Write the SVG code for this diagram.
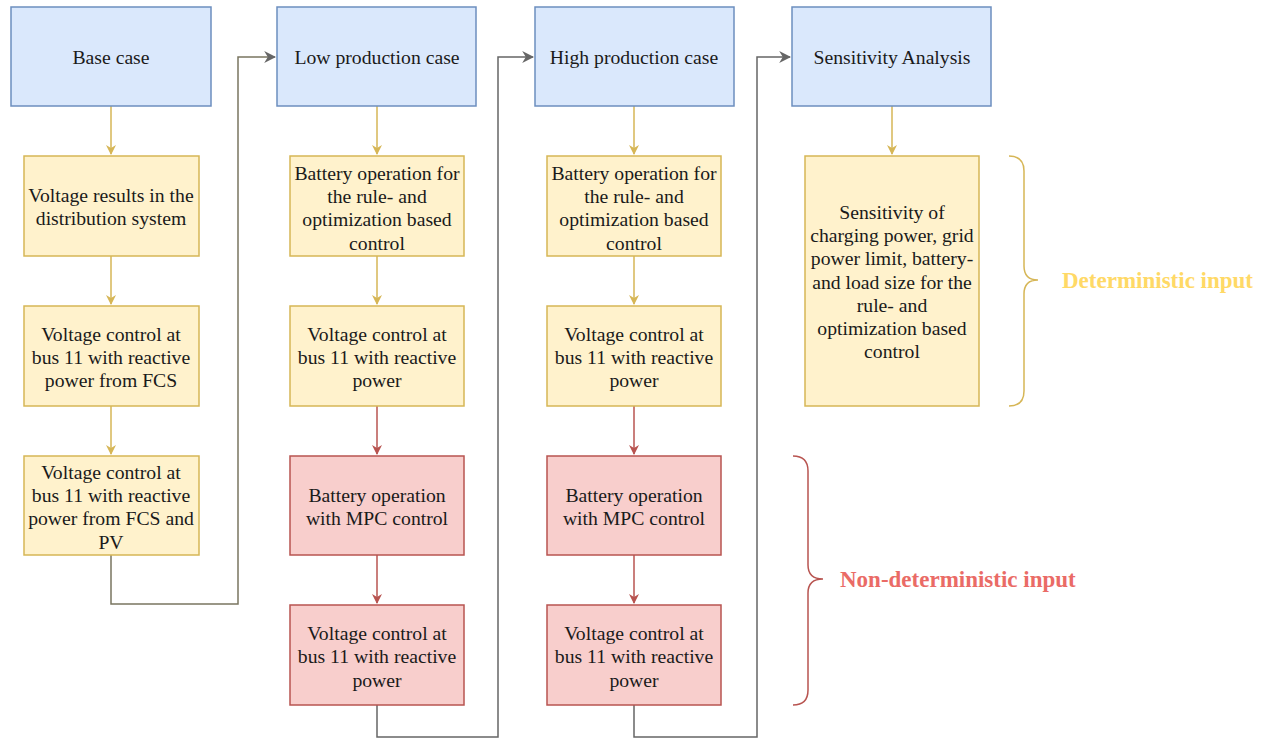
<svg xmlns="http://www.w3.org/2000/svg" width="1268" height="738" viewBox="0 0 1268 738">
<style>
.blue{fill:#dae8fc;stroke:#6c8ebf;stroke-width:1.5}
.yel{fill:#fff2cc;stroke:#d6b656;stroke-width:1.5}
.red{fill:#f8cecc;stroke:#b85450;stroke-width:1.5}
text{font-family:"Liberation Serif","Times New Roman",serif;font-size:19.7px;fill:#1a1a1a;text-anchor:middle}
.cy{fill:none;stroke:#d6b656;stroke-width:1.5}
.cr{fill:none;stroke:#b85450;stroke-width:1.5}
.cg{fill:none;stroke:#666666;stroke-width:1.5}
.co{fill:none;stroke:#7a7560;stroke-width:1.5}
.lbl{font-weight:bold;font-size:23px;text-anchor:start}
</style>
<defs>
<marker id="ay" viewBox="0 0 10 10" refX="9" refY="5" markerWidth="10" markerHeight="10" markerUnits="userSpaceOnUse" orient="auto"><path d="M0,0 L10,5 L0,10 L3,5 Z" fill="#d6b656"/></marker>
<marker id="ar" viewBox="0 0 10 10" refX="9" refY="5" markerWidth="10" markerHeight="10" markerUnits="userSpaceOnUse" orient="auto"><path d="M0,0 L10,5 L0,10 L3,5 Z" fill="#b85450"/></marker>
<marker id="ag" viewBox="0 0 10 10" refX="9" refY="5" markerWidth="12" markerHeight="12" markerUnits="userSpaceOnUse" orient="auto"><path d="M0,0 L10,5 L0,10 L3,5 Z" fill="#666666"/></marker>
</defs>
<g id="connectors">
<path class="cy" d="M111,106 V154" marker-end="url(#ay)"/>
<path class="cy" d="M111,256 V304" marker-end="url(#ay)"/>
<path class="cy" d="M111,406 V454" marker-end="url(#ay)"/>
<path class="co" d="M111,555 V604 H238 V57 H275" marker-end="url(#ag)"/>
<path class="cy" d="M377,106 V154" marker-end="url(#ay)"/>
<path class="cy" d="M377,256 V304" marker-end="url(#ay)"/>
<path class="cr" d="M377,406 V454" marker-end="url(#ar)"/>
<path class="cr" d="M377,555 V603" marker-end="url(#ar)"/>
<path class="cg" d="M377,705 V737 H498 V57 H533" marker-end="url(#ag)"/>
<path class="cy" d="M634,106 V154" marker-end="url(#ay)"/>
<path class="cy" d="M634,256 V304" marker-end="url(#ay)"/>
<path class="cr" d="M634,406 V454" marker-end="url(#ar)"/>
<path class="cr" d="M634,555 V603" marker-end="url(#ar)"/>
<path class="cg" d="M634,705 V737 H757 V57 H790" marker-end="url(#ag)"/>
<path class="cy" d="M892,106 V154" marker-end="url(#ay)"/>
</g>
<g id="base"><rect class="blue" x="11" y="7" width="200" height="99"/><text x="111" y="64">Base case</text></g>
<g id="low"><rect class="blue" x="277" y="7" width="199" height="99"/><text x="377" y="64">Low production case</text></g>
<g id="high"><rect class="blue" x="535" y="7" width="199" height="99"/><text x="634" y="64">High production case</text></g>
<g id="sens"><rect class="blue" x="792" y="7" width="199" height="99"/><text x="892" y="64">Sensitivity Analysis</text></g>
<g id="b1"><rect class="yel" x="24" y="156" width="175" height="100"/><text x="111" y="202">Voltage results in the</text><text x="111" y="225">distribution system</text></g>
<g id="b2"><rect class="yel" x="24" y="306" width="175" height="100"/><text x="111" y="341">Voltage control at</text><text x="111" y="364">bus 11 with reactive</text><text x="111" y="387">power from FCS</text></g>
<g id="b3"><rect class="yel" x="24" y="456" width="175" height="99"/><text x="111" y="479">Voltage control at</text><text x="111" y="502">bus 11 with reactive</text><text x="111" y="525">power from FCS and</text><text x="111" y="549">PV</text></g>
<g id="l1"><rect class="yel" x="290" y="156" width="174" height="100"/><text x="377" y="180">Battery operation for</text><text x="377" y="203">the rule- and</text><text x="377" y="226">optimization based</text><text x="377" y="250">control</text></g>
<g id="l2"><rect class="yel" x="290" y="306" width="174" height="100"/><text x="377" y="341">Voltage control at</text><text x="377" y="364">bus 11 with reactive</text><text x="377" y="387">power</text></g>
<g id="l3"><rect class="red" x="290" y="456" width="174" height="99"/><text x="377" y="502">Battery operation</text><text x="377" y="525">with MPC control</text></g>
<g id="l4"><rect class="red" x="290" y="605" width="174" height="100"/><text x="377" y="640">Voltage control at</text><text x="377" y="663">bus 11 with reactive</text><text x="377" y="687">power</text></g>
<g id="h1"><rect class="yel" x="547" y="156" width="174" height="100"/><text x="634" y="180">Battery operation for</text><text x="634" y="203">the rule- and</text><text x="634" y="226">optimization based</text><text x="634" y="250">control</text></g>
<g id="h2"><rect class="yel" x="547" y="306" width="174" height="100"/><text x="634" y="341">Voltage control at</text><text x="634" y="364">bus 11 with reactive</text><text x="634" y="387">power</text></g>
<g id="h3"><rect class="red" x="547" y="456" width="174" height="99"/><text x="634" y="502">Battery operation</text><text x="634" y="525">with MPC control</text></g>
<g id="h4"><rect class="red" x="547" y="605" width="174" height="100"/><text x="634" y="640">Voltage control at</text><text x="634" y="663">bus 11 with reactive</text><text x="634" y="687">power</text></g>
<g id="s1"><rect class="yel" x="805" y="156" width="174" height="250"/><text x="892" y="219">Sensitivity of</text><text x="892" y="242">charging power, grid</text><text x="892" y="265">power limit, battery-</text><text x="892" y="289">and load size for the</text><text x="892" y="312">rule- and</text><text x="892" y="335">optimization based</text><text x="892" y="358">control</text></g>
<g id="det"><path d="M1009,156 Q1024,156 1024,171 V266 Q1024,280 1038,280 Q1024,280 1024,294 V391 Q1024,406 1009,406" fill="none" stroke="#d6b656" stroke-width="1.5"/><text class="lbl" x="1062" y="288" style="fill:#ffd966">Deterministic input</text></g>
<g id="nondet"><path d="M793,456 Q808,456 808,471 V565 Q808,579 823,579 Q808,579 808,593 V690 Q808,705 793,705" fill="none" stroke="#b85450" stroke-width="1.5"/><text class="lbl" x="840" y="587" style="fill:#ea6b66">Non-deterministic input</text></g>
</svg>
